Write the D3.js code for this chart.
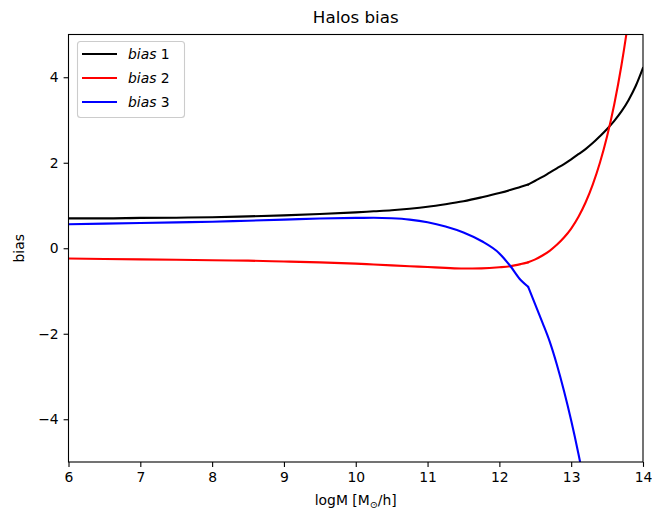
<!DOCTYPE html>
<html>
<head>
<meta charset="utf-8">
<script src="https://cdn.jsdelivr.net/npm/d3@7"></script>
<style>
  html, body { margin: 0; padding: 0; background: #fff; }
  svg { display: block; font-family: "DejaVu Sans", sans-serif; }
</style>
</head>
<body>
<svg id="chart" width="652" height="514"></svg>
<script>
// Halo bias as a function of log halo mass
const logM = [6, 6.5, 7, 7.5, 8, 8.5, 9, 9.5, 10, 10.25, 10.5, 10.75, 11, 11.25, 11.5, 11.75,
              12, 12.15, 12.3, 12.4, 12.5, 12.6, 12.7, 12.8, 12.9, 13, 13.1, 13.2, 13.3,
              13.4, 13.5, 13.6, 13.7, 13.8, 13.9, 14];
const bias1 = [0.70, 0.70, 0.71, 0.715, 0.725, 0.745, 0.77, 0.80, 0.84, 0.865, 0.89, 0.925, 0.97, 1.03, 1.10, 1.19,
               1.29, 1.36, 1.44, 1.49, 1.58, 1.67, 1.77, 1.87, 1.97, 2.08, 2.20, 2.32, 2.46,
               2.62, 2.79, 2.98, 3.20, 3.47, 3.80, 4.22];
const bias2 = [-0.24, -0.25, -0.26, -0.27, -0.28, -0.29, -0.31, -0.33, -0.36, -0.38, -0.40, -0.42, -0.44, -0.46, -0.475, -0.47,
               -0.445, -0.42, -0.37, -0.33, -0.26, -0.17, -0.06, 0.08, 0.25, 0.46, 0.73, 1.07, 1.49,
               2.00, 2.62, 3.37, 4.28, 5.38, 6.7, 8.3];
const bias3 = [0.56, 0.575, 0.59, 0.605, 0.62, 0.645, 0.67, 0.695, 0.71, 0.712, 0.70, 0.67, 0.61, 0.51, 0.37, 0.17,
               -0.12, -0.41, -0.75, -0.90, -1.32, -1.74, -2.18, -2.72, -3.34, -4.03, -4.80, -5.65, -6.6,
               -7.6, -8.7, -9.9, -11.2, -12.6, -14.1, -15.7];
const seriesNames = ["1", "2", "3"];
const seriesColors = ["#000000", "#ff0000", "#0000ff"];
const xTicks = [6, 7, 8, 9, 10, 11, 12, 13, 14];
const yTicks = [-4, -2, 0, 2, 4];
// the tabulated bias has a break in slope at this mass
const breakMass = 12.4;

const svg = d3.select("#chart");
const m = { left: 68.5, right: 643, top: 34.5, bottom: 462 };

const x = d3.scaleLinear().domain([6, 14]).range([m.left, m.right]);
const y = d3.scaleLinear().domain([-5, 5]).range([m.bottom, m.top]);

svg.append("defs").append("clipPath").attr("id", "plotclip")
  .append("rect")
  .attr("x", m.left).attr("y", m.top)
  .attr("width", m.right - m.left).attr("height", m.bottom - m.top);

const line = d3.line().x(d => x(d[0])).y(d => y(d[1])).curve(d3.curveMonotoneX);
const series = [bias1, bias2, bias3];

const g = svg.append("g").attr("clip-path", "url(#plotclip)");
series.forEach((vals, i) => {
  const pts = logM.map((v, j) => [v, vals[j]]);
  // draw each side of the slope break as its own smooth piece
  [pts.filter(p => p[0] <= breakMass), pts.filter(p => p[0] >= breakMass)].forEach(part => {
    g.append("path")
      .attr("d", line(part))
      .attr("fill", "none")
      .attr("stroke", seriesColors[i])
      .attr("stroke-width", 2.1)
      .attr("stroke-linejoin", "round")
      .attr("stroke-linecap", "round");
  });
});

// axes
const fmt = d => d < 0 ? "\u2212" + Math.abs(d) : String(d);
const xAxis = svg.append("g").attr("transform", `translate(0,${m.bottom})`)
  .call(d3.axisBottom(x).tickValues(xTicks).tickFormat(fmt).tickSize(4.9).tickPadding(4.9));
const yAxis = svg.append("g").attr("transform", `translate(${m.left},0)`)
  .call(d3.axisLeft(y).tickValues(yTicks).tickFormat(fmt).tickSize(4.9).tickPadding(4.9));
[xAxis, yAxis].forEach(a => {
  a.select(".domain").remove();
  a.selectAll(".tick line").attr("stroke", "#000").attr("stroke-width", 1.1);
  a.selectAll(".tick text").attr("fill", "#000").attr("font-size", 13.9)
    .attr("font-family", "DejaVu Sans, sans-serif");
});

// frame
svg.append("rect")
  .attr("x", m.left).attr("y", m.top)
  .attr("width", m.right - m.left).attr("height", m.bottom - m.top)
  .attr("fill", "none").attr("stroke", "#000").attr("stroke-width", 1.1);

// title and labels
svg.append("text").attr("x", (m.left + m.right) / 2).attr("y", 23)
  .attr("text-anchor", "middle").attr("font-size", 16.7).text("Halos bias");

const xl = svg.append("text").attr("x", (m.left + m.right) / 2).attr("y", 505)
  .attr("text-anchor", "middle").attr("font-size", 13.9);
xl.append("tspan").text("logM [M");
xl.append("tspan").attr("font-size", 9.7).attr("dy", 3).text("\u2299");
xl.append("tspan").attr("dy", -3).text("/h]");

svg.append("text")
  .attr("transform", `translate(24,${(m.top + m.bottom) / 2}) rotate(-90)`)
  .attr("text-anchor", "middle").attr("font-size", 13.9).text("bias");

// legend
const lg = svg.append("g");
lg.append("rect").attr("x", 77.5).attr("y", 41.5).attr("width", 107).attr("height", 76)
  .attr("rx", 3).attr("fill", "#fff").attr("fill-opacity", 0.8)
  .attr("stroke", "#cccccc").attr("stroke-width", 1.1);
seriesNames.forEach((n, i) => {
  const yy = 54 + i * 24;
  lg.append("line").attr("x1", 82).attr("x2", 117).attr("y1", yy).attr("y2", yy)
    .attr("stroke", seriesColors[i]).attr("stroke-width", 2.1);
  const t = lg.append("text").attr("x", 128).attr("y", yy + 5).attr("font-size", 13.9);
  t.append("tspan").attr("font-style", "italic").text("bias");
  t.append("tspan").text(" " + n);
});
</script>
</body>
</html>
